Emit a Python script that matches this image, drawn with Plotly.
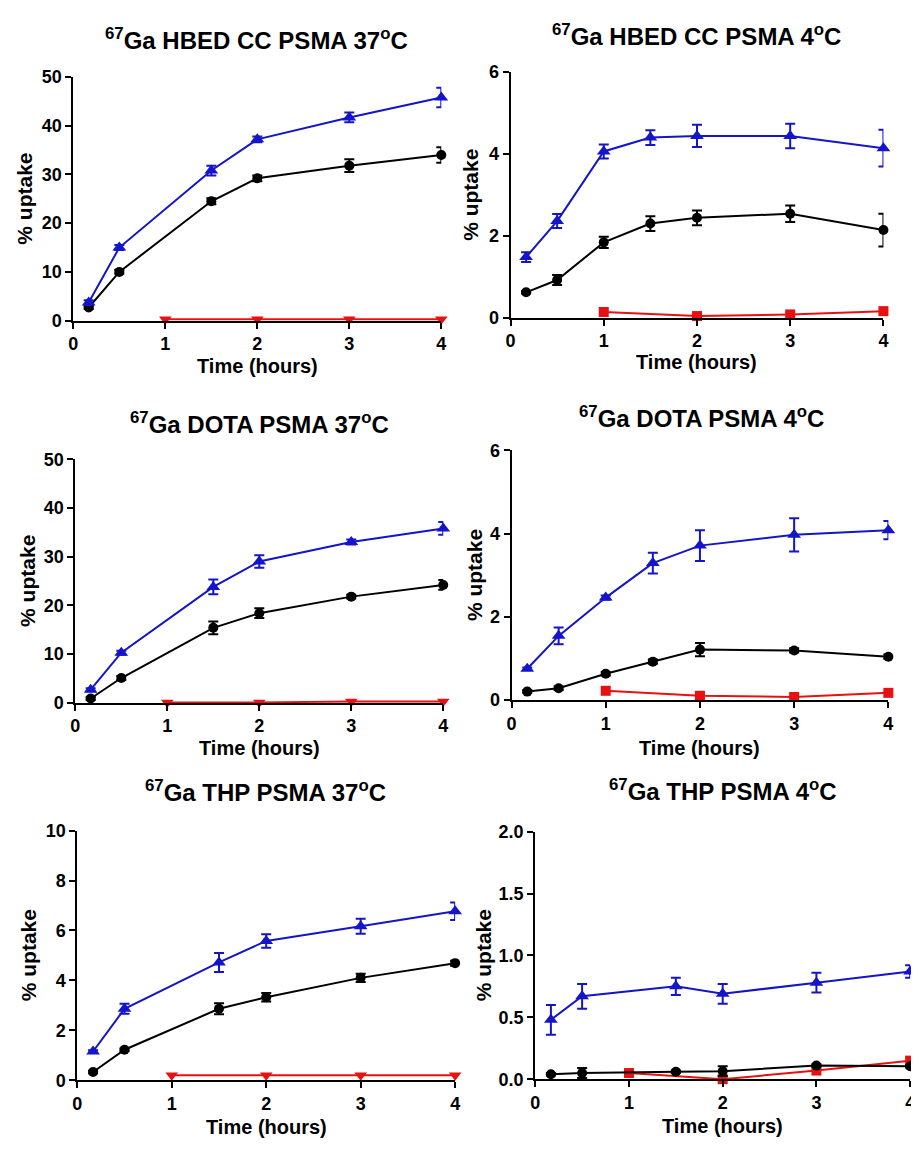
import plotly.graph_objects as go

W, H = 919, 1150
OFF = 8  # the page body adds an 8px margin; positions below are page pixels

# ---------------- data ----------------
T_ALL = [0.167, 0.5, 1, 1.5, 2, 3, 4]
T_NO1 = [0.167, 0.5, 1.5, 2, 3, 4]
T_RED = [1, 2, 3, 4]

panel_titles = [
    "<sup>67</sup>Ga HBED CC PSMA 37<sup>o</sup>C",
    "<sup>67</sup>Ga HBED CC PSMA 4<sup>o</sup>C",
    "<sup>67</sup>Ga DOTA PSMA 37<sup>o</sup>C",
    "<sup>67</sup>Ga DOTA PSMA 4<sup>o</sup>C",
    "<sup>67</sup>Ga THP PSMA 37<sup>o</sup>C",
    "<sup>67</sup>Ga THP PSMA 4<sup>o</sup>C",
]

# HBED CC 37C
hbed37_blue = [3.7, 15.0, 30.8, 37.2, 41.7, 45.8]
hbed37_blue_err = [0.5, 0.5, 1.0, 0.6, 1.0, 2.0]
hbed37_black = [2.7, 10.0, 24.5, 29.2, 31.8, 34.0]
hbed37_black_err = [0.3, 0.4, 0.6, 0.6, 1.3, 1.6]
hbed37_red = [0.3, 0.3, 0.3, 0.3]

# HBED CC 4C
hbed4_blue = [1.48, 2.36, 4.06, 4.40, 4.44, 4.44, 4.14]
hbed4_blue_err = [0.12, 0.17, 0.17, 0.18, 0.27, 0.30, 0.45]
hbed4_black = [0.62, 0.92, 1.84, 2.30, 2.44, 2.54, 2.14]
hbed4_black_err = [0.03, 0.12, 0.14, 0.18, 0.18, 0.20, 0.40]
hbed4_red = [0.14, 0.04, 0.08, 0.16]

# DOTA 37C
dota37_blue = [2.7, 10.3, 23.8, 29.0, 33.0, 35.8]
dota37_blue_err = [0.3, 0.4, 1.5, 1.3, 0.5, 1.3]
dota37_black = [0.9, 5.1, 15.4, 18.4, 21.8, 24.2]
dota37_black_err = [0.3, 0.4, 1.3, 1.0, 0.4, 1.0]
dota37_red = [0.1, 0.1, 0.3, 0.3]

# DOTA 4C
dota4_blue = [0.75, 1.54, 2.46, 3.29, 3.71, 3.97, 4.08]
dota4_blue_err = [0.03, 0.20, 0.05, 0.25, 0.37, 0.40, 0.22]
dota4_black = [0.20, 0.28, 0.63, 0.92, 1.21, 1.19, 1.04]
dota4_black_err = [0.03, 0.04, 0.04, 0.05, 0.16, 0.05, 0.05]
dota4_red = [0.22, 0.10, 0.07, 0.17]

# THP 37C
thp37_blue = [1.15, 2.86, 4.72, 5.58, 6.17, 6.77]
thp37_blue_err = [0.05, 0.20, 0.38, 0.27, 0.30, 0.35]
thp37_black = [0.33, 1.22, 2.86, 3.32, 4.10, 4.69]
thp37_black_err = [0.05, 0.05, 0.22, 0.17, 0.17, 0.10]
thp37_red = [0.2, 0.2, 0.2, 0.2]

# THP 4C
thp4_blue = [0.48, 0.67, 0.75, 0.69, 0.78, 0.87]
thp4_blue_err = [0.12, 0.10, 0.07, 0.08, 0.08, 0.05]
thp4_black = [0.04, 0.05, 0.06, 0.065, 0.11, 0.105]
thp4_black_err = [0.01, 0.04, 0.01, 0.04, 0.01, 0.01]
thp4_red = [0.05, 0.0, 0.07, 0.15]

x_ticks = [0, 1, 2, 3, 4]
y_ticks = [
    [0, 10, 20, 30, 40, 50],
    [0, 2, 4, 6],
    [0, 10, 20, 30, 40, 50],
    [0, 2, 4, 6],
    [0, 2, 4, 6, 8, 10],
    [0.0, 0.5, 1.0, 1.5, 2.0],
]
y_ranges = [[0, 50], [0, 6], [0, 50], [0, 6], [0, 10], [0, 2]]
y_formats = ["d", "d", "d", "d", "d", ".1f"]

panels = [
    (T_NO1, hbed37_blue, hbed37_blue_err, T_NO1, hbed37_black, hbed37_black_err, hbed37_red, "triangle-down"),
    (T_ALL, hbed4_blue, hbed4_blue_err, T_ALL, hbed4_black, hbed4_black_err, hbed4_red, "square"),
    (T_NO1, dota37_blue, dota37_blue_err, T_NO1, dota37_black, dota37_black_err, dota37_red, "triangle-down"),
    (T_ALL, dota4_blue, dota4_blue_err, T_ALL, dota4_black, dota4_black_err, dota4_red, "square"),
    (T_NO1, thp37_blue, thp37_blue_err, T_NO1, thp37_black, thp37_black_err, thp37_red, "triangle-down"),
    (T_NO1, thp4_blue, thp4_blue_err, T_NO1, thp4_black, thp4_black_err, thp4_red, "square"),
]

# ---------------- layout geometry (page pixels) ----------------
# (x_left, x_right, y_top, y_bottom) of each plotting area
boxes = [
    (69, 441, 68, 316),
    (511, 888, 63, 313),
    (71, 443, 457, 705),
    (512, 893, 448, 702),
    (73, 455, 835, 1089),
    (536, 915, 836, 1088),
]
title_pos = [(254, 29), (699, 25), (257, 420), (704, 414), (263, 795), (726, 794)]
xtitle_y = [362, 358, 751, 751, 1137, 1136]
ytitle_x = [20, 471, 22, 474, 24, 484]


def px(x):
    return (x - OFF) / W


def py(y):
    return 1 - (y - OFF) / H


BLUE = "#1414c8"
RED = "#e81010"
BLACK = "#000000"
FONT = "Liberation Sans, Arial, sans-serif"

fig = go.Figure()

for i, (tb, yb, eb, tk, yk, ek, yr, rsym) in enumerate(panels):
    ax = "" if i == 0 else str(i + 1)
    xref, yref = "x" + ax, "y" + ax
    # red
    fig.add_trace(go.Scatter(
        x=T_RED, y=yr, mode="lines+markers", xaxis=xref, yaxis=yref,
        line=dict(color=RED, width=2),
        marker=dict(symbol=rsym, size=10 if rsym == "square" else 11, color=RED),
        cliponaxis=False, showlegend=False))
    # black
    fig.add_trace(go.Scatter(
        x=tk, y=yk, mode="lines+markers", xaxis=xref, yaxis=yref,
        line=dict(color=BLACK, width=2),
        marker=dict(symbol="circle", size=10, color=BLACK),
        error_y=dict(type="data", array=ek, color=BLACK, thickness=2, width=5),
        cliponaxis=False, showlegend=False))
    # blue
    fig.add_trace(go.Scatter(
        x=tb, y=yb, mode="lines+markers", xaxis=xref, yaxis=yref,
        line=dict(color=BLUE, width=2),
        marker=dict(symbol="triangle-up", size=12, color=BLUE),
        error_y=dict(type="data", array=eb, color=BLUE, thickness=2, width=5),
        cliponaxis=False, showlegend=False))

layout = dict(
    width=W, height=H, margin=dict(l=0, r=0, t=0, b=0),
    paper_bgcolor="white", plot_bgcolor="white", showlegend=False,
    font=dict(family=FONT, color="black"),
)

annotations = []
for i, (x0, x1, y0, y1) in enumerate(boxes):
    ax = "" if i == 0 else str(i + 1)
    common = dict(showline=True, linecolor="black", linewidth=2, ticks="outside",
                  ticklen=6, tickwidth=2, tickcolor="black", showgrid=False,
                  zeroline=False, tickfont=dict(family=FONT, size=18, color="black", weight="bold"))
    layout["xaxis" + ax] = dict(
        domain=[px(x0), px(x1)], anchor="y" + ax, range=[0, 4],
        tickmode="array", tickvals=x_ticks, **common)
    layout["yaxis" + ax] = dict(
        domain=[py(y1), py(y0)], anchor="x" + ax, range=y_ranges[i],
        tickmode="array", tickvals=y_ticks[i], tickformat=y_formats[i], **common)
    tx, ty = title_pos[i]
    annotations.append(dict(
        text="<b>" + panel_titles[i] + "</b>", x=px(tx), y=py(ty), xref="paper", yref="paper",
        xanchor="center", yanchor="middle", showarrow=False,
        font=dict(family=FONT, size=24, color="black")))
    annotations.append(dict(
        text="<b>Time (hours)</b>", x=px((x0 + x1) / 2), y=py(xtitle_y[i]),
        xref="paper", yref="paper", xanchor="center", yanchor="middle", showarrow=False,
        font=dict(family=FONT, size=20, color="black")))
    annotations.append(dict(
        text="<b>% uptake</b>", x=px(ytitle_x[i]), y=py((y0 + y1) / 2),
        xref="paper", yref="paper", xanchor="center", yanchor="middle", showarrow=False,
        textangle=-90, font=dict(family=FONT, size=21, color="black")))

layout["annotations"] = annotations
fig.update_layout(**layout)
fig.write_html("out.html")
